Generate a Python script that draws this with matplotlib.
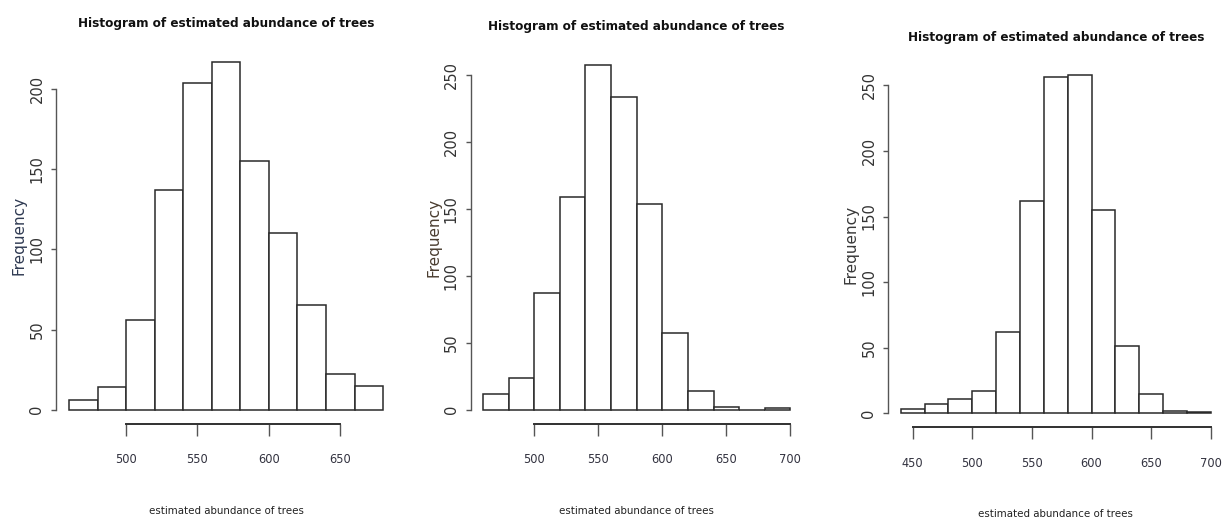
import matplotlib
matplotlib.use("Agg")
import matplotlib.pyplot as plt
from matplotlib import font_manager as fm

# bin edges (left side of each bar) and counts
breaks_1 = [460, 480, 500, 520, 540, 560, 580, 600, 620, 640, 660]
counts_1 = [6, 14, 56, 137, 204, 217, 155, 110, 65, 22, 15]

breaks_2 = [460, 480, 500, 520, 540, 560, 580, 600, 620, 640, 660, 680]
counts_2 = [12, 24, 87, 159, 258, 234, 154, 57, 14, 2, 0, 1]

breaks_3 = [440, 460, 480, 500, 520, 540, 560, 580, 600, 620, 640, 660, 680]
counts_3 = [3, 7, 11, 17, 62, 162, 256, 258, 155, 51, 15, 2, 1]

bin_width = 20

xticks_1 = [500, 550, 600, 650]
xticks_2 = [500, 550, 600, 650, 700]
xticks_3 = [450, 500, 550, 600, 650, 700]

yticks_1 = [0, 50, 100, 150, 200]
yticks_2 = [0, 50, 100, 150, 200, 250]
yticks_3 = [0, 50, 100, 150, 200, 250]

title = "Histogram of estimated abundance of trees"
xlabel = "estimated abundance of trees"
ylabel = "Frequency"

W, H = 1232, 527

names = {f.name for f in fm.fontManager.ttflist}
if "Liberation Sans Narrow" in names:
    narrow = {"family": "Liberation Sans Narrow"}
else:
    narrow = {"family": "DejaVu Sans", "stretch": "condensed"}

# plot regions in pixels: left, right, top, bottom
panels = [
    (56.4, 395.7, 47.9, 423.6, breaks_1, counts_1, xticks_1, yticks_1, "#2f3a52"),
    (470.8, 802.6, 50.9, 423.5, breaks_2, counts_2, xticks_2, yticks_2, "#4a3d30"),
    (888.4, 1223.1, 61.3, 426.8, breaks_3, counts_3, xticks_3, yticks_3, "#383838"),
]

fig = plt.figure(figsize=(W / 100, H / 100), dpi=100)
fig.patch.set_facecolor("white")

for left, right, top, bottom, breaks, counts, xt, yt, ycol in panels:
    ax = fig.add_axes([left / W, 1 - bottom / H, (right - left) / W, (bottom - top) / H])

    ax.bar(breaks, counts, width=bin_width, align="edge",
           facecolor="white", edgecolor="#2a2a2a", linewidth=1.1)

    lo = breaks[0]
    hi = breaks[-1] + bin_width
    span = hi - lo
    ax.set_xlim(lo - 0.04 * span, hi + 0.04 * span)
    top_count = max(counts)
    ax.set_ylim(-0.04 * top_count, 1.04 * top_count)

    for s in ["top", "right"]:
        ax.spines[s].set_visible(False)
    ax.spines["bottom"].set_bounds(xt[0], xt[-1])
    ax.spines["left"].set_bounds(yt[0], yt[-1])
    ax.spines["bottom"].set_linewidth(1.4)
    ax.spines["bottom"].set_color("#303030")
    ax.spines["left"].set_linewidth(1.0)
    ax.spines["left"].set_color("#555555")

    ax.set_xticks(xt)
    ax.set_yticks(yt)
    ax.tick_params(axis="x", length=8.5, width=1.0, color="#555555", pad=13,
                   labelsize=9.2, labelcolor="#333340")
    ax.tick_params(axis="y", length=3.6, width=1.0, color="#555555", pad=5,
                   labelsize=10.5, labelcolor="#333333")
    for lab in ax.get_xticklabels():
        lab.set_fontfamily(narrow["family"])
        if "stretch" in narrow:
            lab.set_fontstretch(narrow["stretch"])
    for lab in ax.get_yticklabels():
        lab.set_rotation(90)
        lab.set_va("center")
        lab.set_fontfamily("DejaVu Sans")

    ax.set_title(title, pad=17.3, va="center", fontsize=9.6, fontweight="bold",
                 color="#111111", **narrow)
    ax.set_xlabel(xlabel, fontsize=8.2, color="#222222", va="center", **narrow)
    ax.xaxis.set_label_coords(0.5, -87 / (bottom - top))
    ax.set_ylabel(ylabel, fontsize=11, color=ycol, va="center",
                  family="DejaVu Sans")
    ax.yaxis.set_label_coords(-37 / (right - left), 0.5)

fig.savefig("out.png", dpi=100, facecolor="white")
